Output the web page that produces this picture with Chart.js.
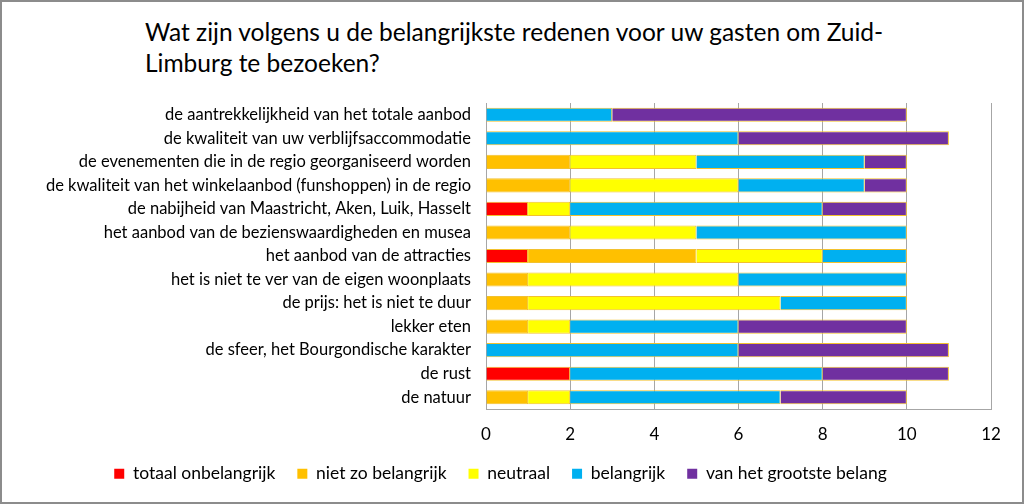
<!DOCTYPE html>
<html>
<head>
<meta charset="utf-8">
<script src="https://cdn.jsdelivr.net/npm/chart.js@4/dist/chart.umd.min.js"></script>
<style>
  html,body{margin:0;padding:0;background:#fff;}
  #wrap{position:relative;width:1024px;height:504px;box-sizing:border-box;border:2px solid #8c8c8c;overflow:hidden;}
  #title{position:absolute;left:143px;top:14px;font-family:Lato,"Open Sans",sans-serif;font-size:24.5px;line-height:31px;color:#000;}
  canvas{position:absolute;left:-2px;top:-2px;}
</style>
</head>
<body>
<div id="wrap">
  <div id="title">Wat zijn volgens u de belangrijkste redenen voor uw gasten om Zuid-<br>Limburg te bezoeken?</div>
  <canvas id="c" width="1024" height="504"></canvas>
</div>
<script>
// categorieën en aantallen per antwoord
const categories = [
  'de aantrekkelijkheid van het totale aanbod',
  'de kwaliteit van uw verblijfsaccommodatie',
  'de evenementen die in de regio georganiseerd worden',
  'de kwaliteit van het winkelaanbod (funshoppen) in de regio',
  'de nabijheid van Maastricht, Aken, Luik, Hasselt',
  'het aanbod van de bezienswaardigheden en musea',
  'het aanbod van de attracties',
  'het is niet te ver van de eigen woonplaats',
  'de prijs: het is niet te duur',
  'lekker eten',
  'de sfeer, het Bourgondische karakter',
  'de rust',
  'de natuur'
];
const totaalOnbelangrijk = [0,0,0,0,1,0,1,0,0,0,0,2,0];
const nietZoBelangrijk   = [0,0,2,2,0,2,4,1,1,1,0,0,1];
const neutraal           = [0,0,3,4,1,3,3,5,6,1,0,0,1];
const belangrijk         = [3,6,4,3,6,5,2,4,3,4,6,6,5];
const grootsteBelang     = [7,5,1,1,2,0,0,0,0,4,5,3,3];
const xTicks = [0,2,4,6,8,10,12];

const font = 'Lato, "Open Sans", sans-serif';

function ds(label, data, color){
  return {label, data, backgroundColor:color, borderColor:'#F2C12E', borderWidth:1,
    categoryPercentage:0.6, barPercentage:1};
}

new Chart(document.getElementById('c'),{
  type:'bar',
  data:{
    labels:categories,
    datasets:[
      ds('totaal onbelangrijk', totaalOnbelangrijk, '#FF0000'),
      ds('niet zo belangrijk', nietZoBelangrijk, '#FFC000'),
      ds('neutraal', neutraal, '#FFFF00'),
      ds('belangrijk', belangrijk, '#00B0F0'),
      ds('van het grootste belang', grootsteBelang, '#7030A0')
    ]
  },
  options:{
    indexAxis:'y',
    responsive:false,
    animation:false,
    layout:{padding:{top:103,right:33,bottom:21,left:10}},
    plugins:{
      legend:{
        position:'bottom',
        maxHeight:40,
        labels:{font:{family:font,size:17.5},color:'#000',boxWidth:10,boxHeight:10,padding:22,
          generateLabels(chart){
            return chart.data.datasets.map((d,i)=>({text:d.label,fillStyle:d.backgroundColor,
              strokeStyle:d.backgroundColor,lineWidth:0,datasetIndex:i,fontColor:'#000'}));
          }}
      },
      tooltip:{enabled:false}
    },
    scales:{
      x:{
        stacked:true,min:0,max:12,
        afterBuildTicks(s){ s.ticks = xTicks.map(v=>({value:v})); },
        grid:{color:'#A6A6A6',drawTicks:false},
        border:{color:'#A6A6A6'},
        ticks:{font:{family:font,size:17},color:'#000',padding:15},
        afterFit(s){ s.height = 34; }
      },
      y:{
        stacked:true,
        grid:{display:false},
        border:{color:'#A6A6A6'},
        ticks:{font:{family:font,size:16.5},color:'#000',padding:7,autoSkip:false},
        afterFit(s){ s.width = 476; }
      }
    }
  }
});
</script>
</body>
</html>
